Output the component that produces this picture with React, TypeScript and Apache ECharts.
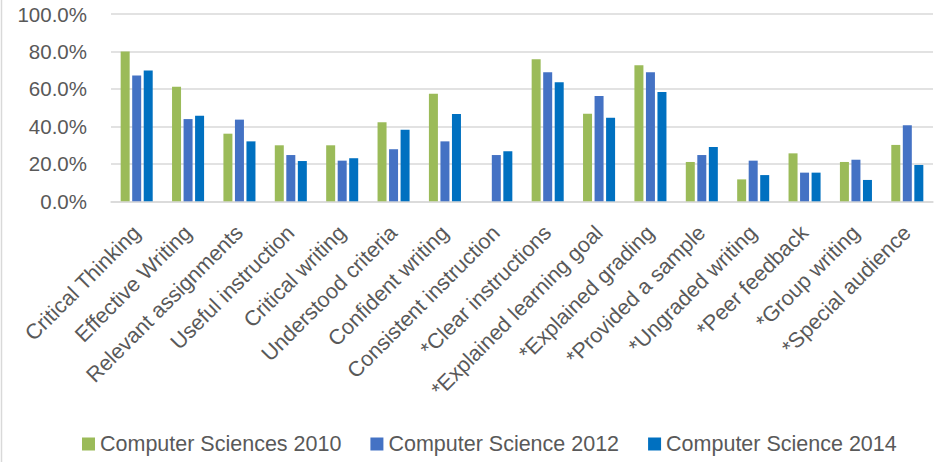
import React, { useEffect, useRef } from "react";
import * as echarts from "echarts";

const categories = [
  "Critical Thinking",
  "Effective Writing",
  "Relevant assignments",
  "Useful instruction",
  "Critical writing",
  "Understood criteria",
  "Confident writing",
  "Consistent instruction",
  "*Clear instructions",
  "*Explained learning goal",
  "*Explained grading",
  "*Provided a sample",
  "*Ungraded writing",
  "*Peer feedback",
  "*Group writing",
  "*Special audience",
];

const cs2010 = [80.0, 61.2, 36.1, 29.9, 29.9, 42.2, 57.4, 0, 75.8, 46.8, 72.6, 21.0, 11.7, 25.6, 21.0, 30.1];
const cs2012 = [67.1, 43.9, 43.6, 24.7, 21.7, 27.8, 32.0, 24.7, 68.9, 56.2, 68.9, 24.7, 21.7, 15.3, 22.2, 40.6];
const cs2014 = [69.9, 45.7, 32.0, 21.5, 23.0, 38.2, 46.6, 26.7, 63.5, 44.6, 58.4, 29.0, 14.0, 15.3, 11.4, 19.4];

const seriesNames = ["Computer Sciences 2010", "Computer Science 2012", "Computer Science 2014"];
const yTicks = { min: 0, max: 100, interval: 20 };

const FONT = "'Liberation Sans', Arial, sans-serif";
const TEXT = "#595959";

export default function App() {
  const ref = useRef<HTMLDivElement>(null);
  useEffect(() => {
    if (!ref.current) return;
    const chart = echarts.init(ref.current, null, { renderer: "svg" });
    const mk = (name: string, data: number[], color: string) => ({
      name,
      type: "bar",
      data,
      barWidth: 9,
      barGap: "28%",
      itemStyle: { color },
    });
    chart.setOption({
      animation: false,
      backgroundColor: "#ffffff",
      textStyle: { fontFamily: FONT },
      grid: { left: 111, right: 9, top: 14, bottom: 260.7, containLabel: false },
      legend: {
        left: 77,
        top: 428,
        itemWidth: 13,
        itemHeight: 13,
        itemGap: 29,
        icon: "rect",
        textStyle: { fontFamily: FONT, fontSize: 21.5, color: TEXT },
        data: seriesNames,
      },
      xAxis: {
        type: "category",
        data: categories,
        axisLine: { lineStyle: { color: "#D9D9D9", width: 1.5 } },
        axisTick: { show: false },
        axisLabel: {
          rotate: 45,
          interval: 0,
          margin: 28,
          fontFamily: FONT,
          fontSize: 21.5,
          color: TEXT,
        },
      },
      yAxis: {
        type: "value",
        min: yTicks.min,
        max: yTicks.max,
        interval: yTicks.interval,
        axisLine: { show: false },
        axisTick: { show: false },
        splitLine: { lineStyle: { color: "#D9D9D9", width: 1.5 } },
        axisLabel: {
          margin: 24,
          fontFamily: FONT,
          fontSize: 20.5,
          color: TEXT,
          formatter: (v: number) => `${v.toFixed(1)}%`,
        },
      },
      graphic: [
        {
          type: "line",
          shape: { x1: 1.5, y1: 0, x2: 1.5, y2: 462 },
          style: { stroke: "#D9D9D9", lineWidth: 1.5 },
        },
      ],
      series: [
        mk(seriesNames[0], cs2010, "#9BBB59"),
        mk(seriesNames[1], cs2012, "#4472C4"),
        mk(seriesNames[2], cs2014, "#0070C0"),
      ],
    });
    return () => chart.dispose();
  }, []);
  return (
    <div
      ref={ref}
      style={{ position: "fixed", left: 0, top: 0, width: 942, height: 462 }}
    />
  );
}
